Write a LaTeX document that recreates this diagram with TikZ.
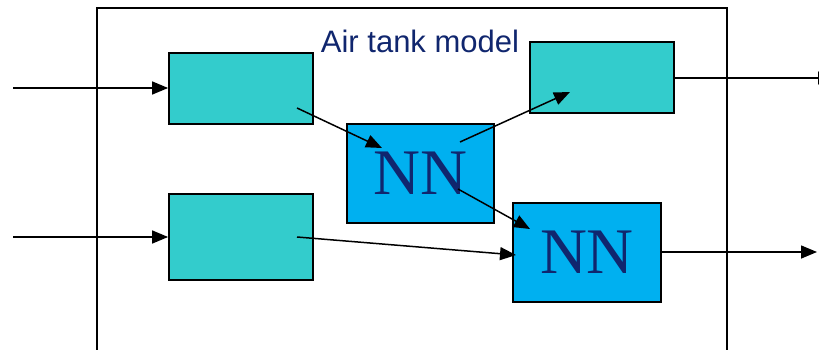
\documentclass[tikz,border=0pt]{standalone}
\usepackage{fontspec}
\setmainfont{Liberation Serif}
\setsansfont{Liberation Sans}
\usetikzlibrary{arrows.meta}
\definecolor{tealbox}{RGB}{51,204,204}
\definecolor{nnblue}{RGB}{0,176,240}
\definecolor{navy}{RGB}{16,38,110}

\begin{document}
\begin{tikzpicture}[
  x=1pt, y=-1pt,
  >={Triangle[length=16pt,width=13pt]},
  box/.style={draw, line width=1.8pt, inner sep=0pt},
  proc/.style={box, fill=tealbox, minimum width=144pt},
  nnet/.style={box, fill=nnblue, minimum width=148pt, minimum height=99pt, font=\fontsize{65}{65}\selectfont, text=navy},
  arr/.style={->, line width=1.5pt},
  modelframe/.style={line width=1.8pt}
]
\useasboundingbox (0,0) rectangle (819,350);
% ---------------- model frame ----------------
\draw[modelframe] (97,356) |- (727,8) -- (727,356);
\node[font=\sffamily\fontsize{31}{31}\selectfont, text=navy, anchor=base] (title) at (420,53) {Air tank model};

% ---------------- blocks ----------------
\node[proc, minimum height=71pt] (inbox1) at (241,88.5) {};
\node[proc, minimum height=86pt] (inbox2) at (241,237) {};
\node[proc, minimum height=71pt] (outbox) at (602,77.5) {};
\node[nnet, minimum width=147pt] (nn1) at (420.5,173.5) {NN};
\node[nnet] (nn2) at (587,252.5) {NN};

% ---------------- free ends ----------------
\coordinate (u1) at (13,88);
\coordinate (u2) at (13,237);
\coordinate (y1) at (834,78);
\coordinate (y2) at (817,252);
\coordinate (p1) at (297,108);
\coordinate (q1) at (382,148);
\coordinate (p2) at (460,142);
\coordinate (q2) at (570,92);
\coordinate (p3) at (458,189);
\coordinate (q3) at (530,229);
\coordinate (p4) at (297,237);
\coordinate (q4) at (516,255);

% ---------------- signals ----------------
\draw[arr] (u1) -- (u1 -| inbox1.west);
\draw[arr] (u2) -- (u2 -| inbox2.west);
\draw[arr] (p1) -- (q1);
\draw[arr] (p2) -- (q2);
\draw[arr] (p3) -- (q3);
\draw[arr] (p4) -- (q4);
\draw[arr] (y1 -| outbox.east) -- (y1);
\draw[arr] (y2 -| nn2.east) -- (y2);
\end{tikzpicture}
\end{document}
